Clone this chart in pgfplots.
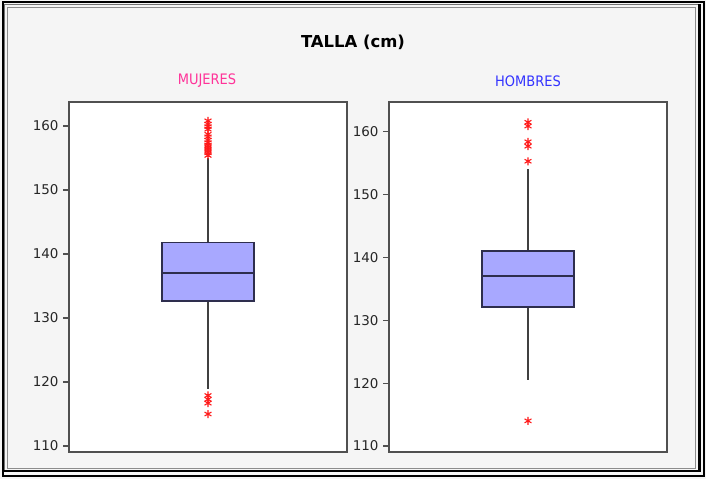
\documentclass[border=0pt]{standalone}
\usepackage{pgfplots}
\pgfplotsset{compat=1.18}
\usepackage{fontspec}
\setmainfont{DejaVu Sans}
\newfontfamily\condfont{DejaVu Sans Condensed}
\definecolor{bgray}{HTML}{F5F5F5}
\definecolor{boxfill}{HTML}{A8A8FF}
\definecolor{boxdraw}{HTML}{2E2E4E}
\definecolor{axgray}{HTML}{505050}
\definecolor{pinkt}{HTML}{FF3399}
\definecolor{bluet}{HTML}{3333FF}
\definecolor{outred}{HTML}{FF1A1A}
\pgfplotsset{
  myaxis/.style={
    anchor=south west, scale only axis, height=350bp,
    xmin=0.5, xmax=1.5, xtick=\empty,
    ytick={110,120,130,140,150,160},
    ytick pos=left, tick align=outside, major tick length=6bp,
    axis line style={draw=axgray, line width=1.8bp},
    every tick/.style={draw=axgray, line width=1.3bp},
    yticklabel style={font=\fontsize{13.5}{15}\selectfont, text=black!85, xshift=-1bp},
    /pgf/number format/assume math mode=true,
    axis background/.style={fill=white},
  },
  boxst/.style={draw=boxdraw, fill=boxfill, line width=1.6bp},
  medst/.style={draw=boxdraw, line width=1.8bp},
  whst/.style={draw=black!75, line width=1.6bp},
  outst/.style={only marks, mark=asterisk, mark size=4bp,
    mark options={draw=outred, line width=1.1bp, solid}},
}
\begin{document}
\begin{tikzpicture}
\fill[bgray] (0bp,0bp) rectangle (706bp,479bp);
\draw[black, line width=2bp] (2.5bp,2.5bp) rectangle (703.5bp,476.5bp);
\draw[black!55, line width=1bp] (4.8bp,7bp) rectangle (698bp,474.3bp);
\draw[black!45, line width=1bp] (7.8bp,10bp) rectangle (695bp,471.2bp);
\draw[black, line width=2.5bp] (4bp,8bp) -- (699.5bp,8bp) -- (699.5bp,475bp);
\node[font=\bfseries\fontsize{16.5}{19}\selectfont] at (353bp,437bp) {TALLA (cm)};
\node[font=\condfont\fontsize{14.5}{17}\selectfont, text=pinkt] at (207bp,398bp) {MUJERES};
\node[font=\condfont\fontsize{14.5}{17}\selectfont, text=bluet] at (528bp,398bp) {HOMBRES};
% MUJERES: whiskers 118.9 / 155.0, quartiles 132.7 / 141.8, median 137.0
\begin{axis}[myaxis, at={(69bp,26.7bp)}, width=278bp, ymin=109.02, ymax=163.7]
\addplot[whst] coordinates {(1,141.8) (1,155.0)};
\addplot[whst] coordinates {(1,132.7) (1,118.9)};
\addplot[boxst] coordinates {(0.8345,132.7) (1.1655,132.7) (1.1655,141.8) (0.8345,141.8)} -- cycle;
\addplot[medst] coordinates {(0.8345,137.0) (1.1655,137.0)};
\addplot[outst] coordinates {(1,155.4) (1,155.8) (1,156.1) (1,156.4) (1,156.7) (1,157.0) (1,157.4) (1,157.8) (1,158.3) (1,158.7) (1,159.5) (1,159.9) (1,160.3) (1,160.8) (1,117.9) (1,117.3) (1,116.7) (1,115.0)};
\end{axis}
% HOMBRES: whiskers 120.5 / 154.0, quartiles 132.07 / 141.0, median 137.1
\begin{axis}[myaxis, at={(389bp,26.7bp)}, width=278bp, ymin=109.0, ymax=164.68]
\addplot[whst] coordinates {(1,141.0) (1,154.0)};
\addplot[whst] coordinates {(1,132.07) (1,120.5)};
\addplot[boxst] coordinates {(0.834,132.07) (1.166,132.07) (1.166,141.0) (0.834,141.0)} -- cycle;
\addplot[medst] coordinates {(0.834,137.1) (1.166,137.1)};
\addplot[outst] coordinates {(1,155.3) (1,157.7) (1,158.4) (1,160.9) (1,161.5) (1,114.0)};
\end{axis}
\end{tikzpicture}
\end{document}
